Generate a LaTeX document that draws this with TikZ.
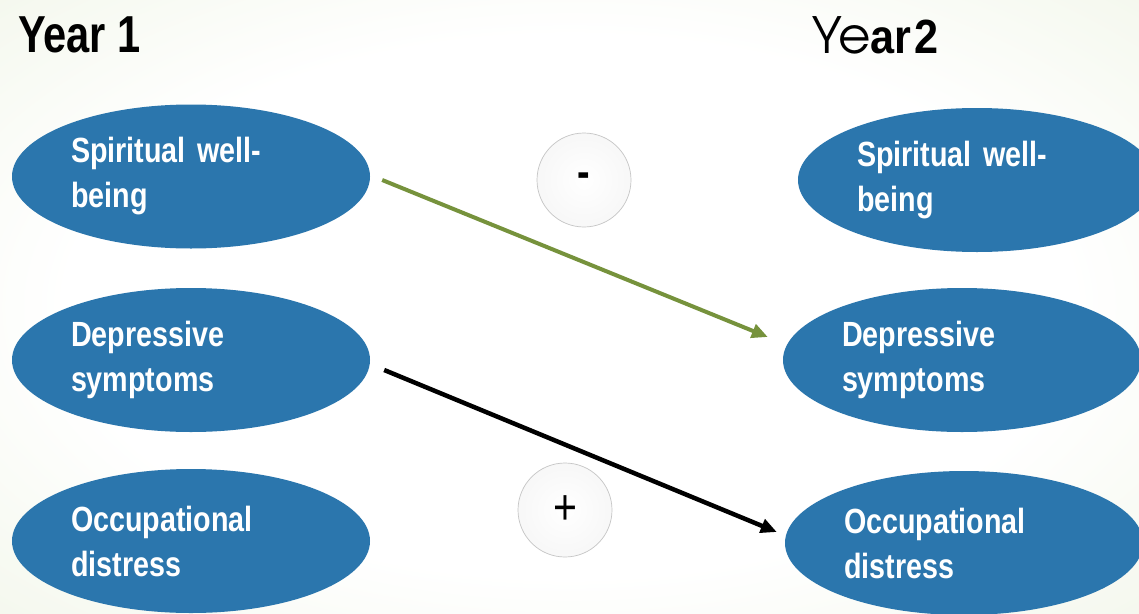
\documentclass[tikz,border=0pt]{standalone}
\usepackage{fontspec}
\setmainfont[FakeStretch=0.82]{Liberation Sans}
\newfontfamily\titlefont[FakeStretch=0.8]{Liberation Sans}
\newfontfamily\yearfont[FakeStretch=0.9]{Liberation Sans}
\newfontfamily\advfont{texgyreadventor-regular.otf}
\usetikzlibrary{shapes.geometric,arrows.meta}
\definecolor{ellblue}{HTML}{2B76AD}
\definecolor{arrgreen}{HTML}{76923C}
\definecolor{bggreen}{HTML}{E4EDD3}
\pgfdeclareradialshading{bgshade}{\pgfpoint{0bp}{0bp}}{color(0bp)=(white); color(22bp)=(white); color(50bp)=(bggreen!80); color(75bp)=(bggreen)}
\tikzset{
  var/.style={ellipse, fill=ellblue, minimum width=358pt, minimum height=144pt, inner sep=0pt,
    text=white, text width=240pt, align=left, font=\bfseries\fontsize{35}{45}\selectfont},
  bubble/.style={circle, minimum size=94pt, inner sep=0pt, shade, inner color=white, outer color=gray!6,
    draw=gray!45, line width=0.7pt},
  yeartitle/.style={anchor=base west, inner sep=0pt},
  greenarr/.style={draw=arrgreen, line width=4pt, -{Triangle[length=16pt,width=14pt]}},
  blackarr/.style={draw=black, line width=4.5pt, -{Triangle[length=16pt,width=14pt]}}
}
\begin{document}
\begin{tikzpicture}[x=1pt,y=-1pt]
\useasboundingbox (0,0) rectangle (1139,613);
\clip (0,0) rectangle (1139,613);
\shade[shading=bgshade] (0,0) rectangle (1139,613);

\node[yeartitle, font=\titlefont\bfseries\fontsize{52}{52}\selectfont] (y1) at (18,52) {Year 1};
\node[yeartitle] (y2) at (812,53) {{\advfont\fontsize{50}{50}\selectfont Ye}{\yearfont\bfseries\fontsize{48}{48}\selectfont ar\hspace{3pt}2}};

\node[var] (sp1) at (191,176.5) {Spiritual well-\\being};
\node[var] (dep1) at (191,360) {Depressive\\symptoms};
\node[var] (occ1) at (191,541) {Occupational\\distress};

\node[var] (sp2) at (977,180) {Spiritual well-\\being};
\node[var] (dep2) at (962,360) {Depressive\\symptoms};
\node[var] (occ2) at (964,543) {Occupational\\distress};

\node[bubble, font=\bfseries\fontsize{46}{46}\selectfont] (minus) at (584,180) {\raisebox{-4pt}{-}};
\node[bubble, font=\fontsize{50}{50}\selectfont] (plus) at (565,510) {\raisebox{-2pt}{+}};

\draw[greenarr] ([shift={(12,3.5)}]sp1.east) -- ([shift={(-15,-23)}]dep2.west);
\draw[blackarr] ([shift={(14,10)}]dep1.east) -- ([shift={(-8,-11)}]occ2.west);
\end{tikzpicture}
\end{document}
